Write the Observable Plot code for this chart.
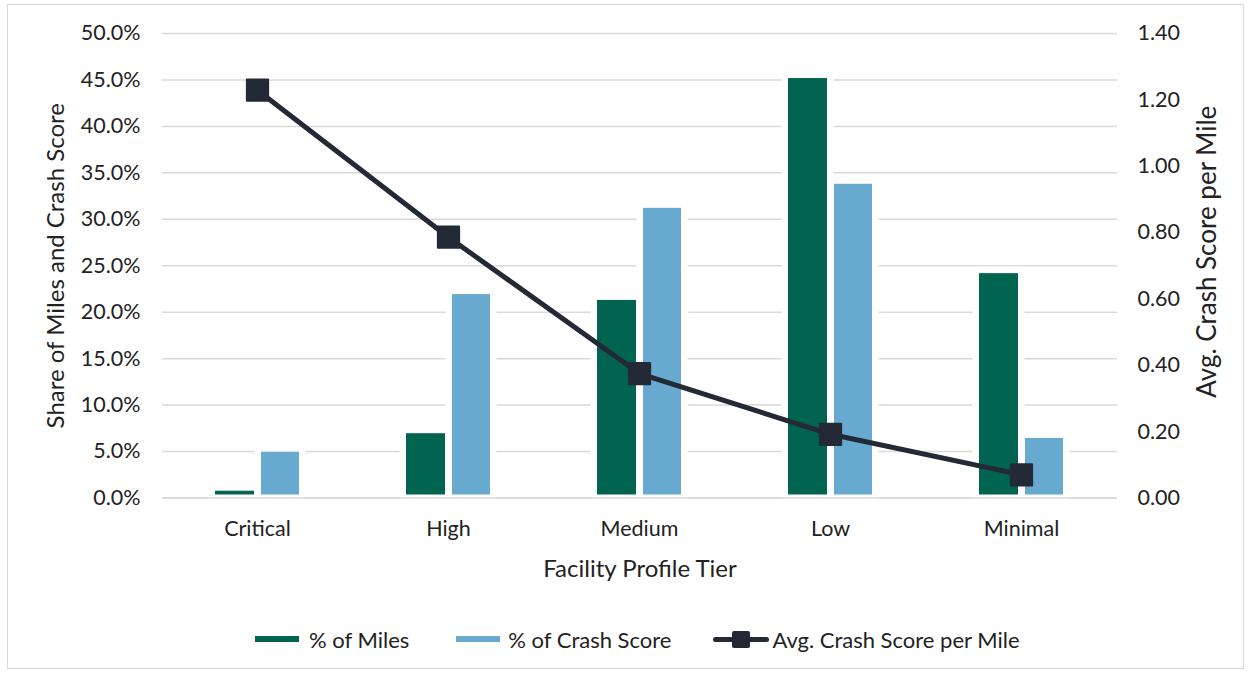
<!DOCTYPE html>
<html>
<head>
<meta charset="utf-8">
<script src="https://cdn.jsdelivr.net/npm/d3@7"></script>
<script src="https://cdn.jsdelivr.net/npm/@observablehq/plot@0.6"></script>
<style>
  html, body { margin: 0; padding: 0; background: #fff; }
  #wrap { position: relative; width: 1250px; height: 675px; font-family: Lato, "Open Sans", sans-serif; color: #222; }
  #frame { position: absolute; left: 7px; top: 4px; width: 1237px; height: 665px; border: 1px solid #d9d9d9; box-sizing: border-box; pointer-events: none; }
  #chart { position: absolute; left: 0; top: 0; }
  #legend { position: absolute; left: 255px; top: 624px; height: 30px; display: flex; align-items: center; font-size: 22px; white-space: nowrap; }
  .item { display: flex; align-items: center; }
  .sw { display: inline-block; width: 44px; height: 6px; position: relative; }
  .sw.line { width: 56px; height: 5px; border-radius: 3px; }
  .sw.line::after { content: ""; position: absolute; left: 19px; top: -6px; width: 18px; height: 17px; background: inherit; border-radius: 2px; }
</style>
</head>
<body>
<div id="wrap">
  <div id="frame"></div>
  <div id="chart"></div>
  <div id="legend"></div>
</div>
<script>
// Facility profile tiers and their shares
const tiers = ["Critical", "High", "Medium", "Low", "Minimal"];
const milesShare = [0.0073, 0.0692, 0.2127, 0.4515, 0.2415];
const crashShare = [0.0493, 0.2190, 0.3118, 0.3377, 0.0641];
const avgPerMile = [1.229, 0.786, 0.375, 0.192, 0.070];

// Axis ticks: left in share, right in avg. crash score per mile
const leftTicks = [0, 0.05, 0.10, 0.15, 0.20, 0.25, 0.30, 0.35, 0.40, 0.45, 0.50];
const rightTicks = [0, 0.2, 0.4, 0.6, 0.8, 1.0, 1.2, 1.4];

const seriesNames = ["% of Miles", "% of Crash Score", "Avg. Crash Score per Mile"];
const axisTitles = { x: "Facility Profile Tier", left: "Share of Miles and Crash Score", right: "Avg. Crash Score per Mile" };
const colors = { miles: "#006450", crash: "#68a9cf", avg: "#232a35" };

const leftMax = 0.5, rightMax = 1.4;
const toLeft = v => v * leftMax / rightMax;   // secondary axis onto the primary scale
const toRight = v => v * rightMax / leftMax;

const rows = tiers.map((tier, i) => ({
  tier, miles: milesShare[i], crash: crashShare[i], avg: avgPerMile[i]
}));

const tickFont = 21.5, titleFont = 24, rightTitleFont = 26;

const chart = Plot.plot({
  width: 1250,
  height: 600,
  marginTop: 33,
  marginBottom: 102.5,
  marginLeft: 162,
  marginRight: 133,
  style: { fontFamily: "Lato, 'Open Sans', sans-serif", fontSize: tickFont + "px", color: "#222", background: "transparent", overflow: "visible" },
  x: { domain: tiers, paddingInner: 0.56, paddingOuter: 0.28, label: null },
  y: { domain: [0, leftMax], label: null },
  marks: [
    Plot.ruleY(leftTicks, { stroke: "#d9d9d9", strokeWidth: 1.5 }),
    // white halos that break the gridlines around each bar
    Plot.barY(rows, { x: "tier", y: "miles", insetRight: 45, fill: "white", stroke: "white", strokeWidth: 13 }),
    Plot.barY(rows, { x: "tier", y: "crash", insetLeft: 46, fill: "white", stroke: "white", strokeWidth: 13 }),
    Plot.ruleY([0], { stroke: "#d9d9d9", strokeWidth: 1.5 }),
    Plot.barY(rows, { x: "tier", y: "miles", insetRight: 45, insetBottom: 3, fill: colors.miles }),
    Plot.barY(rows, { x: "tier", y: "crash", insetLeft: 46, insetBottom: 3, fill: colors.crash }),
    Plot.line(rows, { x: "tier", y: d => toLeft(d.avg), stroke: colors.avg, strokeWidth: 5 }),
    Plot.dot(rows, { x: "tier", y: d => toLeft(d.avg), symbol: "square", r: 12, fill: colors.avg, stroke: colors.avg, strokeWidth: 2, strokeLinejoin: "round" }),
    // tick labels
    Plot.axisY({ anchor: "left", ticks: leftTicks, tickFormat: d3.format(".1%"), tickSize: 0, tickPadding: 22, label: null }),
    Plot.axisY({ anchor: "right", ticks: rightTicks.map(toLeft), tickFormat: d => toRight(d).toFixed(2), tickSize: 0, tickPadding: 20, label: null }),
    Plot.axisX({ tickSize: 0, tickPadding: 23, label: null }),
    // axis titles
    Plot.axisY({ anchor: "left", ticks: [], label: axisTitles.left, labelAnchor: "center", labelOffset: 116, labelArrow: "none", fontSize: titleFont }),
    Plot.axisX({ ticks: [], label: axisTitles.x, labelAnchor: "center", labelOffset: 79, labelArrow: "none", fontSize: titleFont }),
    Plot.text([axisTitles.right], { frameAnchor: "right", textAnchor: "middle", lineAnchor: "middle", rotate: -90, dx: 90, dy: -14, fontSize: rightTitleFont, fill: "#222" })
  ]
});
document.getElementById("chart").appendChild(chart);

// Legend below the chart
const legend = document.getElementById("legend");
const swatchClass = ["sw", "sw", "sw line"];
const swatchColor = [colors.miles, colors.crash, colors.avg];
const textGap = [10, 8, 3];
const itemGap = [47, 42, 0];
seriesNames.forEach((name, i) => {
  const item = document.createElement("div");
  item.className = "item";
  item.style.marginRight = itemGap[i] + "px";
  const sw = document.createElement("span");
  sw.className = swatchClass[i];
  sw.style.background = swatchColor[i];
  sw.style.marginRight = textGap[i] + "px";
  const label = document.createElement("span");
  label.textContent = name;
  item.appendChild(sw);
  item.appendChild(label);
  legend.appendChild(item);
});
</script>
</body>
</html>
